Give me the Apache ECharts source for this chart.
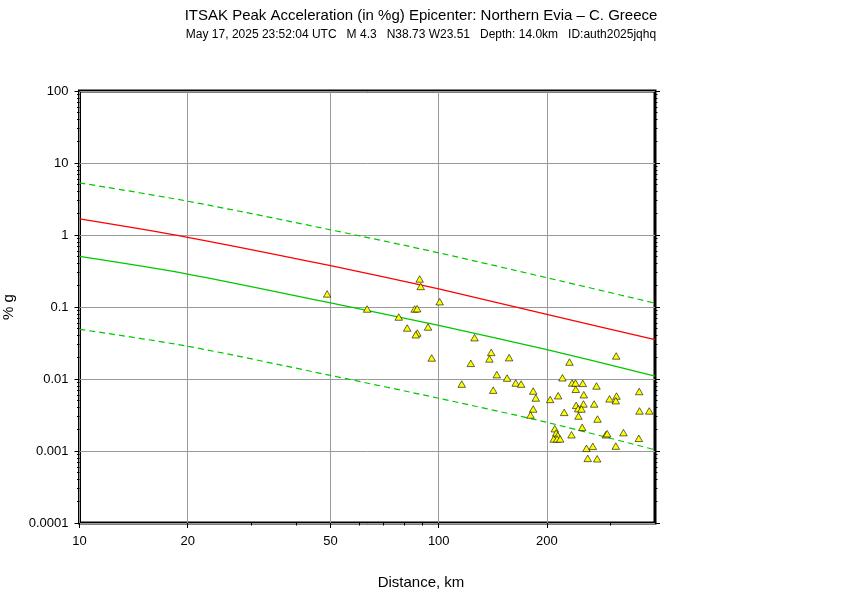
<!DOCTYPE html>
<html><head><meta charset="utf-8">
<script src="https://cdn.jsdelivr.net/npm/echarts@6/dist/echarts.min.js"></script>
<style>html,body{margin:0;padding:0;background:#fff}#c{width:842px;height:595px}</style>
</head><body><div id="c"></div>
<script>
const titleText = 'ITSAK Peak Acceleration (in %g) Epicenter: Northern Evia \u2013 C. Greece';
const subtitleText = 'May 17, 2025 23:52:04 UTC   M 4.3   N38.73 W23.51   Depth: 14.0km   ID:auth2025jqhq';
const xAxisTitle = 'Distance, km';
const yAxisTitle = '% g';
const xTickValues = [10, 20, 50, 100, 200];
const xTickLabels = ['10', '20', '50', '100', '200'];
const xMinorTicks = [30, 40, 60, 70, 80, 90, 300];
const yTickValues = [0.0001, 0.001, 0.01, 0.1, 1, 10, 100];
const yTickLabels = ['0.0001', '0.001', '0.01', '0.1', '1', '10', '100'];

const curveDistance = [10, 20, 50, 100, 200, 400];
const medianPGA = [0.504, 0.287, 0.114, 0.0555, 0.0255, 0.0110];
const upperPGA = [5.3, 2.95, 1.18, 0.565, 0.255, 0.113];
const lowerPGA = [0.049, 0.0285, 0.0112, 0.0054, 0.0025, 0.00104];
const redPGA = [1.67, 0.93, 0.375, 0.178, 0.079, 0.0351];

const stationDistance = [48.9, 88.5, 89.1, 100.6, 63.2, 85.7, 87.1, 77.4, 81.7, 93.4,
  87.2, 86.3, 125.8, 95.6, 140.0, 138.4, 157.0, 122.8, 145.1, 155.0,
  163.8, 169.6, 115.9, 141.8, 183.2, 186.3, 204.3, 215.0, 183.2, 180.1,
  221.0, 231.2, 311.9, 235.2, 240.3, 251.8, 274.9, 240.7, 361.5, 253.4,
  312.5, 311.1, 298.8, 241.3, 252.9, 270.8, 244.4, 249.7, 362.2, 385.5,
  223.5, 244.9, 276.7, 210.4, 250.8, 212.3, 214.5, 209.0, 213.6, 217.8,
  234.2, 291.8, 294.4, 326.8, 360.6, 257.8, 268.5, 311.1, 259.9, 276.1];
const stationPGA = [0.152, 0.245, 0.193, 0.1185, 0.0938, 0.0938, 0.0947, 0.0726, 0.0511, 0.0528,
  0.0435, 0.0412, 0.0375, 0.0196, 0.0234, 0.0190, 0.0198, 0.0165, 0.0115, 0.0103,
  0.0088, 0.0085, 0.0085, 0.0070, 0.0068, 0.00545, 0.0052, 0.00586, 0.00383, 0.00316,
  0.0104, 0.0172, 0.0209, 0.0088, 0.0088, 0.0087, 0.0080, 0.0072, 0.0067, 0.00605,
  0.0058, 0.0050, 0.0053, 0.0043, 0.0045, 0.0045, 0.00387, 0.00383, 0.0036, 0.0036,
  0.00344, 0.00306, 0.00278, 0.00204, 0.00213, 0.00178, 0.00165, 0.00147, 0.00147, 0.00147,
  0.00168, 0.00168, 0.00174, 0.0018, 0.0015, 0.00109, 0.00116, 0.00117, 0.00079, 0.00078];

const FONT = '"Liberation Sans", Arial, Helvetica, sans-serif';
const yMinorTicks = [];
for (let e = -4; e < 2; e++) for (let k = 2; k <= 9; k++) yMinorTicks.push(+(k * Math.pow(10, e)).toPrecision(3));

function pickLabel(v, vals, labels) {
  for (let i = 0; i < vals.length; i++) {
    if (Math.abs(Math.log10(v) - Math.log10(vals[i])) < 1e-6) return labels[i];
  }
  return '';
}
const zip = (a, b) => a.map((v, i) => [v, b[i]]);

const xBase = { type: 'log', logBase: 10, min: 10, max: 400, gridIndex: 0 };
const yBase = { type: 'log', logBase: 10, min: 0.0001, max: 100, gridIndex: 0 };
const tickStyle = { color: '#000', width: 1 };

const option = {
  animation: false,
  backgroundColor: '#fff',
  title: [
    { text: titleText, left: 'center', top: 3, textStyle: { fontFamily: FONT, fontSize: 15, fontWeight: 'normal', color: '#000' } },
    { text: subtitleText, left: 'center', top: 24, textStyle: { fontFamily: FONT, fontSize: 12, fontWeight: 'normal', color: '#000' } }
  ],
  graphic: [
    { type: 'text', left: 'center', top: 575, style: { text: xAxisTitle, font: '15px ' + FONT, fill: '#000' } }
  ],
  grid: { left: 79.5, top: 91, width: 575.5, height: 432, show: true, borderColor: '#000', borderWidth: 3, backgroundColor: 'transparent', outerBoundsMode: 'none', containLabel: false },
  xAxis: [
    Object.assign({}, xBase, {
      position: 'bottom',
      axisLine: { show: false },
      axisTick: { show: true, inside: false, length: 5, customValues: xTickValues, lineStyle: tickStyle },
      axisLabel: { show: true, customValues: xTickValues, formatter: v => pickLabel(v, xTickValues, xTickLabels), color: '#000', fontSize: 13, fontFamily: FONT, margin: 12 },
      splitLine: { show: true, lineStyle: { color: '#9a9a9a', width: 1 } },
      minorTick: { show: false }, minorSplitLine: { show: false }
    }),
    Object.assign({}, xBase, {
      position: 'bottom',
      axisLine: { show: false },
      axisTick: { show: true, inside: false, length: 2.5, customValues: xMinorTicks, lineStyle: tickStyle },
      axisLabel: { show: false },
      splitLine: { show: false }
    })
  ],
  yAxis: [
    Object.assign({}, yBase, {
      position: 'left',
      axisLine: { show: false },
      axisTick: { show: true, inside: false, length: 5, customValues: yTickValues, lineStyle: tickStyle },
      axisLabel: { show: true, customValues: yTickValues, formatter: v => pickLabel(v, yTickValues, yTickLabels), color: '#000', fontSize: 13, fontFamily: FONT, margin: 11 },
      splitLine: { show: true, lineStyle: { color: '#9a9a9a', width: 1 } },
      name: yAxisTitle, nameLocation: 'middle', nameGap: 63,
      nameTextStyle: { fontFamily: FONT, fontSize: 15, color: '#000' }
    }),
    Object.assign({}, yBase, {
      position: 'left',
      axisLine: { show: false },
      axisTick: { show: true, inside: false, length: 2.5, customValues: yMinorTicks, lineStyle: tickStyle },
      axisLabel: { show: false }, splitLine: { show: false }
    }),
    Object.assign({}, yBase, {
      position: 'right',
      axisLine: { show: false },
      axisTick: { show: true, inside: false, length: 5, customValues: yTickValues, lineStyle: tickStyle },
      axisLabel: { show: false }, splitLine: { show: false }
    }),
    Object.assign({}, yBase, {
      position: 'right',
      axisLine: { show: false },
      axisTick: { show: true, inside: false, length: 2.5, customValues: yMinorTicks, lineStyle: tickStyle },
      axisLabel: { show: false }, splitLine: { show: false }
    })
  ],
  series: [
    { type: 'line', name: 'upper', xAxisIndex: 0, yAxisIndex: 0, data: zip(curveDistance, upperPGA), symbol: 'none', smooth: 0.3, silent: true,
      lineStyle: { color: '#00c800', width: 1.2, type: [6, 4] }, z: 3 },
    { type: 'line', name: 'lower', xAxisIndex: 0, yAxisIndex: 0, data: zip(curveDistance, lowerPGA), symbol: 'none', smooth: 0.3, silent: true,
      lineStyle: { color: '#00c800', width: 1.2, type: [6, 4] }, z: 3 },
    { type: 'line', name: 'median', xAxisIndex: 0, yAxisIndex: 0, data: zip(curveDistance, medianPGA), symbol: 'none', smooth: 0.3, silent: true,
      lineStyle: { color: '#00c800', width: 1.3 }, z: 3 },
    { type: 'line', name: 'red', xAxisIndex: 0, yAxisIndex: 0, data: zip(curveDistance, redPGA), symbol: 'none', smooth: 0.3, silent: true,
      lineStyle: { color: '#ff0000', width: 1.3 }, z: 3 },
    { type: 'scatter', name: 'stations', xAxisIndex: 0, yAxisIndex: 0, data: zip(stationDistance, stationPGA), symbol: 'triangle', symbolSize: [7.5, 6.5], silent: true,
      itemStyle: { color: '#ffff00', borderColor: '#000', borderWidth: 0.6, opacity: 1 }, z: 4 }
  ]
};
const chart = echarts.init(document.getElementById('c'), null, { renderer: 'canvas' });
chart.setOption(option);
</script>
</body></html>
